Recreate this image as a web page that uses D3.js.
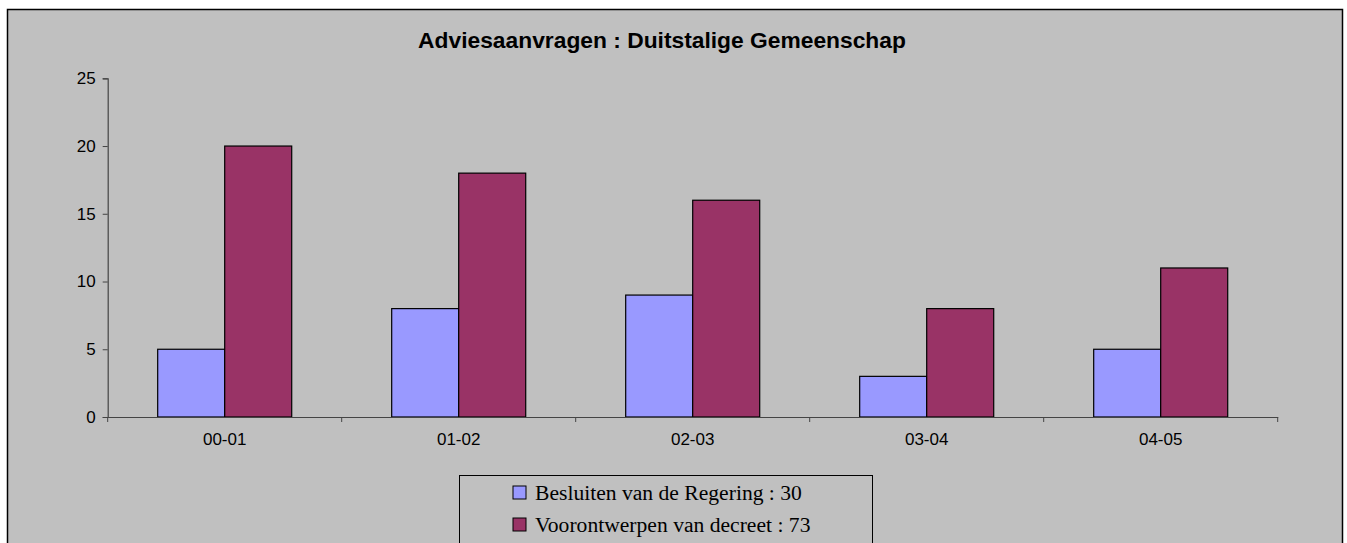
<!DOCTYPE html>
<html>
<head>
<meta charset="utf-8">
<script src="https://cdn.jsdelivr.net/npm/d3@7.9.0/dist/d3.min.js"></script>
<style>
  body { margin: 0; background: #fff; }
  svg { display: block; }
</style>
</head>
<body>
<svg id="chart" width="1347" height="543"></svg>
<script>
// Chart data
const title = "Adviesaanvragen : Duitstalige Gemeenschap";
const periods = ["00-01", "01-02", "02-03", "03-04", "04-05"];
const seriesNames = ["Besluiten van de Regering : 30", "Voorontwerpen van decreet : 73"];
const besluiten = [5, 8, 9, 3, 5];
const voorontwerpen = [20, 18, 16, 8, 11];
const yTicks = [0, 5, 10, 15, 20, 25];
const colors = ["#9999ff", "#993366"];

const svg = d3.select("#chart");

// Chart area background + frame
svg.append("rect")
  .attr("x", 7.5).attr("y", 9.5)
  .attr("width", 1335).attr("height", 560)
  .attr("fill", "#c0c0c0")
  .attr("stroke", "#000")
  .attr("stroke-width", 1.5);

svg.append("text")
  .attr("x", 662).attr("y", 47.5)
  .attr("text-anchor", "middle")
  .attr("font-family", "Liberation Sans, Arial, sans-serif")
  .attr("font-weight", "bold")
  .attr("font-size", 22.8)
  .text(title);

const plot = { left: 107.7, right: 1277.7, top: 78.3, bottom: 417 };

const x = d3.scaleBand().domain(periods).range([plot.left, plot.right]);
const xInner = d3.scaleBand()
  .domain([0, 1])
  .range([0, x.bandwidth()])
  .paddingInner(0)
  .paddingOuter(0.746);
const y = d3.scaleLinear().domain([0, 25]).range([plot.bottom, plot.top]);

const rows = periods.map((p, i) => ({ period: p, values: [besluiten[i], voorontwerpen[i]] }));

// Bars
const groups = svg.append("g")
  .selectAll("g")
  .data(rows)
  .join("g")
  .attr("transform", d => `translate(${x(d.period)},0)`);

groups.selectAll("rect")
  .data(d => d.values.map((v, k) => ({ k, v })))
  .join("rect")
  .attr("x", d => xInner(d.k))
  .attr("width", xInner.bandwidth())
  .attr("y", d => y(d.v))
  .attr("height", d => y(0) - y(d.v))
  .attr("fill", d => colors[d.k])
  .attr("stroke", "#000")
  .attr("stroke-width", 1.2);

// Y axis
const yAxis = svg.append("g")
  .attr("transform", `translate(${plot.left},0)`)
  .call(d3.axisLeft(y).tickValues(yTicks).tickSize(5).tickPadding(7));

// X axis with ticks at category boundaries
const xAxis = svg.append("g")
  .attr("transform", `translate(0,${plot.bottom})`)
  .call(d3.axisBottom(x).tickSize(0).tickPadding(16));

xAxis.selectAll(".bound")
  .data(d3.range(periods.length + 1))
  .join("line")
  .attr("class", "bound")
  .attr("x1", i => plot.left + i * x.step())
  .attr("x2", i => plot.left + i * x.step())
  .attr("y1", 0).attr("y2", 5)
  .attr("stroke", "#444");

[yAxis, xAxis].forEach(a => {
  a.select(".domain").attr("stroke", "#444").attr("stroke-width", 1.2);
  a.selectAll(".tick line").attr("stroke", "#444");
  a.selectAll("text")
    .attr("font-family", "Liberation Sans, Arial, sans-serif")
    .attr("font-size", 17)
    .attr("fill", "#000");
});

// Legend
const legend = svg.append("g");
legend.append("rect")
  .attr("x", 459.5).attr("y", 475.5)
  .attr("width", 413).attr("height", 80)
  .attr("fill", "#c0c0c0")
  .attr("stroke", "#000")
  .attr("stroke-width", 1);

const items = legend.selectAll(".item")
  .data(seriesNames)
  .join("g")
  .attr("class", "item")
  .attr("transform", (d, i) => `translate(513,${486 + i * 32})`);

items.append("rect")
  .attr("width", 13).attr("height", 13)
  .attr("fill", (d, i) => colors[i])
  .attr("stroke", "#000")
  .attr("stroke-width", 1);

items.append("text")
  .attr("x", 22).attr("y", 13.5)
  .attr("font-family", "Liberation Serif, Times New Roman, serif")
  .attr("font-size", 21.6)
  .attr("fill", "#000")
  .text(d => d);
</script>
</body>
</html>
